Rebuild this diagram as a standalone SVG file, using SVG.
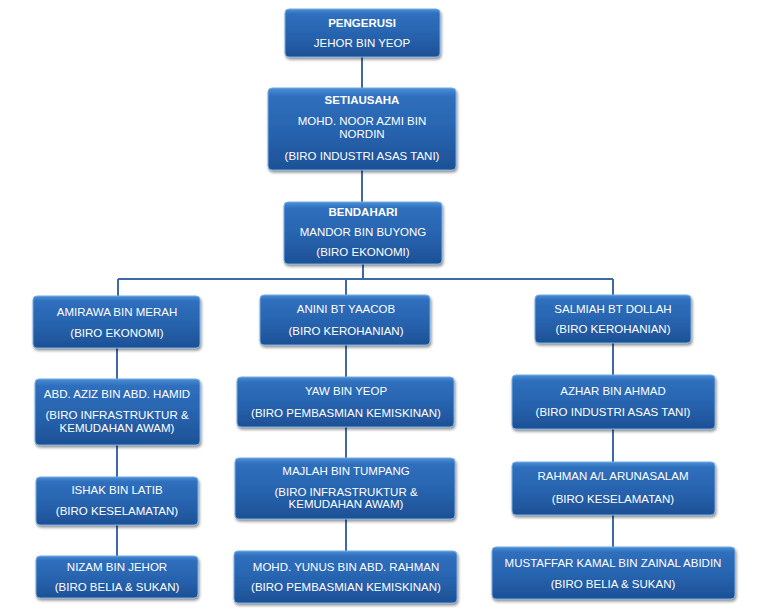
<svg xmlns="http://www.w3.org/2000/svg" width="768" height="612" viewBox="0 0 768 612">
<defs>
<linearGradient id="g" x1="0" y1="0" x2="0" y2="1">
<stop offset="0" stop-color="#4a8fd6"/>
<stop offset="0.1" stop-color="#2f6fbd"/>
<stop offset="0.55" stop-color="#2763ae"/>
<stop offset="1" stop-color="#1d5095"/>
</linearGradient>
<filter id="sh" x="-10%" y="-10%" width="125%" height="140%">
<feGaussianBlur in="SourceAlpha" stdDeviation="1.5"/>
<feOffset dx="1" dy="2" result="b"/>
<feComponentTransfer><feFuncA type="linear" slope="0.45"/></feComponentTransfer>
<feMerge><feMergeNode/><feMergeNode in="SourceGraphic"/></feMerge>
</filter>
</defs>
<style>
.box{fill:url(#g);stroke:#78ace2;stroke-width:1;filter:url(#sh)}
.t{font-family:"Liberation Sans",Arial,sans-serif;font-size:11.5px;fill:#ffffff;text-anchor:middle}
.b{font-weight:bold}
.c{stroke:#3d6aa6;stroke-width:2;fill:none}
</style>
<rect width="768" height="612" fill="#ffffff"/>
<g id="connectors">
<path class="c" d="M362 57V88M362 170V202M363 264V279M118 279H613M118 279V296M346 279V295M613 279V295M117 348V379M117 445V477M117 525V556M346 345V377M346 427V458M346 519V551M613 343V375M613 429V462M613 515V547"/>
</g>
<g id="pengerusi"><rect class="box" x="285" y="9" width="155" height="48" rx="4"/>
<text class="t b" x="362" y="27">PENGERUSI</text><text class="t" x="362" y="47">JEHOR BIN YEOP</text></g>
<g id="setiausaha"><rect class="box" x="268" y="88" width="188" height="82" rx="4"/>
<text class="t b" x="362" y="104">SETIAUSAHA</text><text class="t" x="362" y="125">MOHD. NOOR AZMI BIN</text><text class="t" x="362" y="138">NORDIN</text><text class="t" x="362" y="160">(BIRO INDUSTRI ASAS TANI)</text></g>
<g id="bendahari"><rect class="box" x="284" y="202" width="158" height="62" rx="4"/>
<text class="t b" x="363" y="216">BENDAHARI</text><text class="t" x="363" y="236">MANDOR BIN BUYONG</text><text class="t" x="363" y="256">(BIRO EKONOMI)</text></g>
<g id="amirawa"><rect class="box" x="33" y="296" width="167" height="52" rx="4"/>
<text class="t" x="117" y="316">AMIRAWA BIN MERAH</text><text class="t" x="117" y="337">(BIRO EKONOMI)</text></g>
<g id="abdaziz"><rect class="box" x="35" y="379" width="165" height="66" rx="4"/>
<text class="t" x="117" y="398">ABD. AZIZ BIN ABD. HAMID</text><text class="t" x="117" y="419">(BIRO INFRASTRUKTUR &amp;</text><text class="t" x="117" y="432">KEMUDAHAN AWAM)</text></g>
<g id="ishak"><rect class="box" x="36" y="477" width="162" height="48" rx="4"/>
<text class="t" x="117" y="494">ISHAK BIN LATIB</text><text class="t" x="117" y="515">(BIRO KESELAMATAN)</text></g>
<g id="nizam"><rect class="box" x="36" y="556" width="162" height="42" rx="4"/>
<text class="t" x="117" y="571">NIZAM  BIN JEHOR</text><text class="t" x="117" y="591">(BIRO BELIA &amp; SUKAN)</text></g>
<g id="anini"><rect class="box" x="260" y="295" width="170" height="50" rx="4"/>
<text class="t" x="346" y="313">ANINI  BT YAACOB</text><text class="t" x="346" y="335">(BIRO KEROHANIAN)</text></g>
<g id="yaw"><rect class="box" x="237" y="377" width="217" height="50" rx="4"/>
<text class="t" x="346" y="395">YAW  BIN YEOP</text><text class="t" x="346" y="417">(BIRO PEMBASMIAN  KEMISKINAN)</text></g>
<g id="majlah"><rect class="box" x="235" y="458" width="220" height="61" rx="4"/>
<text class="t" x="346" y="475">MAJLAH BIN TUMPANG</text><text class="t" x="346" y="496">(BIRO INFRASTRUKTUR &amp;</text><text class="t" x="346" y="508">KEMUDAHAN  AWAM)</text></g>
<g id="mohdyunus"><rect class="box" x="234" y="551" width="223" height="52" rx="4"/>
<text class="t" x="346" y="571">MOHD. YUNUS BIN ABD. RAHMAN</text><text class="t" x="346" y="591">(BIRO PEMBASMIAN  KEMISKINAN)</text></g>
<g id="salmiah"><rect class="box" x="535" y="295" width="156" height="48" rx="4"/>
<text class="t" x="613" y="313">SALMIAH  BT DOLLAH</text><text class="t" x="613" y="333">(BIRO KEROHANIAN)</text></g>
<g id="azhar"><rect class="box" x="512" y="375" width="203" height="54" rx="4"/>
<text class="t" x="613" y="395">AZHAR BIN AHMAD</text><text class="t" x="613" y="416">(BIRO INDUSTRI  ASAS TANI)</text></g>
<g id="rahman"><rect class="box" x="512" y="462" width="203" height="53" rx="4"/>
<text class="t" x="613" y="480">RAHMAN A/L ARUNASALAM</text><text class="t" x="613" y="503">(BIRO KESELAMATAN)</text></g>
<g id="mustaffar"><rect class="box" x="492" y="547" width="243" height="52" rx="4"/>
<text class="t" x="613" y="567">MUSTAFFAR  KAMAL BIN ZAINAL ABIDIN</text><text class="t" x="613" y="588">(BIRO BELIA &amp; SUKAN)</text></g>
</svg>
